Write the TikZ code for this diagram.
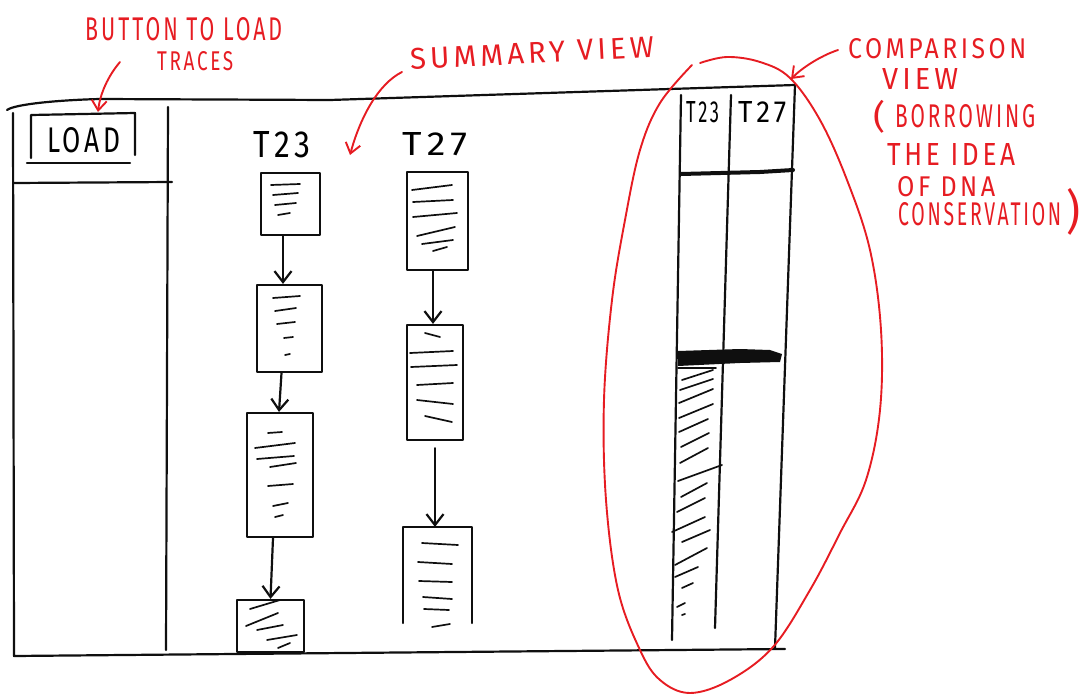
\documentclass[tikz,border=0pt]{standalone}
\usepackage{fontspec}
\setmainfont{Fira Sans}
\newfontfamily\hand[LetterSpace=14]{Fira Sans}
\usetikzlibrary{arrows.meta}
\definecolor{pen}{RGB}{15,15,15}
\definecolor{marker}{RGB}{230,28,34}
% text squeezed into a given width and height
\newcommand\fitbox[3]{\resizebox{#1}{#2}{\hand #3}}
\newcommand\fitboxall[3]{\resizebox*{#1}{#2}{#3}}

\begin{document}
\begin{tikzpicture}[x=1pt,y=-1pt,line cap=round,line join=round,
  ink/.style={draw=pen,line width=2.2pt},
  fine ink/.style={draw=pen,line width=1.7pt},
  red ink/.style={draw=marker,line width=1.9pt},
  flow/.style={ink,-{Straight Barb[length=11pt,width=17pt]}},
  callout/.style={red ink,-{Straight Barb[length=10pt,width=15pt]}},
  trace/.style={draw=pen,line width=2.2pt,rectangle,inner sep=0pt},
  word/.style={inner sep=0pt,anchor=north west},
  note/.style={word,text=marker}]

\useasboundingbox (0,0) rectangle (1082,696);

% ---------- window frame ----------
\draw[ink] (7,110) .. controls (15,104) and (60,100) .. (100,99) -- (330,100) -- (670,89) -- (795,85);
\draw[ink] (13,113) -- (14,656) -- (785,649);
\draw[ink] (168,107) -- (166,650);
\draw[ink] (14,183) -- (172,182);

% ---------- load button ----------
\node[word] (load) at (47,127) {\fitbox{73pt}{25pt}{LOAD}};
\draw[ink] (31,158) -- (31,115) -- (135,113) -- (135,155);
\draw[ink] (27,163) -- (130,163);

% ---------- summary view ----------
\node[word] (lblA) at (253,131) {\fitbox{57pt}{26pt}{T23}};
\node[word] (lblB) at (402,132) {\fitbox{65pt}{23pt}{T27}};

\node[trace,minimum width=59pt,minimum height=62pt]  (s1) at (290.5,204) {};
\node[trace,minimum width=65pt,minimum height=87pt]  (s2) at (289.5,328.5) {};
\node[trace,minimum width=66pt,minimum height=124pt] (s3) at (280,475) {};
\node[trace,minimum width=67pt,minimum height=52pt]  (s4) at (270.5,626) {};

\node[trace,minimum width=61pt,minimum height=98pt]  (t1) at (437.5,221) {};
\node[trace,minimum width=56pt,minimum height=115pt] (t2) at (435,382.5) {};
\node[trace,draw=none,minimum width=67pt,minimum height=94pt] (t3) at (437.5,575) {};
\draw[ink] (t3.south west) -- (t3.north west) -- (t3.north east) -- (t3.south east);

% lines of text inside the trace boxes
\foreach \a/\b/\c/\d in {271/185/300/184, 273/195/298/193, 275/205/296/203, 278/215/290/213,
  273/298/300/296, 275/311/296/308, 277/324/295/322, 284/338/293/337, 285/355/290/354,
  268/433/282/432, 255/448/295/443, 257/459/294/456, 270/467/296/463, 268/486/293/484, 273/506/288/503, 275/517/283/515,
  250/609/280/600, 246/626/278/613, 257/630/283/625, 267/640/297/635, 278/648/290/643,
  412/190/452/185, 413/202/453/200, 413/217/457/213, 417/236/455/227, 422/244/453/240, 433/251/447/247,
  425/333/440/337, 410/353/453/351, 411/367/457/365, 417/385/453/383, 417/400/453/404, 425/416/452/422,
  422/543/458/545, 418/562/452/564, 419/581/452/582, 423/597/452/599, 424/609/449/610, 432/627/450/624}
  \draw[fine ink] (\a,\b) -- (\c,\d);

% steps between traces
\draw[flow] ([xshift=-7.5pt]s1.south) -- ([xshift=-6.5pt]s2.north);
\draw[flow] ([xshift=-8pt]s2.south) -- ([xshift=-1pt]s3.north);
\draw[flow] ([xshift=-7pt]s3.south) -- ([xshift=0pt]s4.north);
\draw[flow] ([xshift=-4.5pt]t1.south) -- ([xshift=-2pt]t2.north);
\draw[flow] ([xshift=0pt,yshift=-7pt]t2.south) -- ([xshift=-2.5pt]t3.north);

% ---------- comparison view ----------
\draw[ink] (681,95) -- (672,640);
\draw[ink] (731,95) -- (715,628);
\draw[ink] (795,85) -- (775,648);
\node[word] (cmpA) at (686,101) {\fitbox{33pt}{21pt}{T23}};
\node[word] (cmpB) at (738,101) {\fitbox{48pt}{21pt}{T27}};
\draw[draw=pen,line width=4pt] (681,174) -- (760,172) -- (793,170);
\fill[pen] (678,351) -- (740,349) -- (770,350) -- (782,354) -- (780,362) -- (740,363) -- (678,366) -- cycle;
\draw[fine ink] (678,368) -- (716,368);
\foreach \a/\b/\c/\d in {682/380/713/370, 680/390/713/379, 679/403/713/389, 679/418/713/404,
  679/432/708/419, 681/447/709/433, 680/463/708/448, 678/481/722/465, 681/497/707/483,
  677/512/705/498, 672/532/705/517, 682/542/710/530, 675/565/707/548, 675/577/698/567,
  682/588/693/583, 677/607/685/603, 682/615/685/614}
  \draw[fine ink] (\a,\b) -- (\c,\d);

% ---------- red notes ----------
\node[note] (nButton) at (85,17) {\fitbox{197pt}{23pt}{BUTTON TO LOAD}};
\node[note] (nTraces) at (157,51) {\fitbox{76pt}{19pt}{TRACES}};
\coordinate (btnTip) at (98,112);
\draw[callout] (120,62) .. controls (108,76) and (100,94) .. (btnTip);

\node[note,anchor=center,rotate=3] (nSummary) at (532,53) {\fitbox{244pt}{21pt}{SUMMARY VIEW}};
\coordinate (sumTip) at (350,155);
\draw[callout] (402,72) .. controls (378,84) and (360,118) .. (sumTip);

\node[note] (nCmp)   at (848,38)  {\fitbox{178pt}{20pt}{COMPARISON}};
\node[note] (nView)  at (882,68)  {\fitbox{76pt}{21pt}{VIEW}};
\node[note] (nOpen)  at (873,100) {\fitboxall{12pt}{33pt}{(}};
\node[note] (nBorr)  at (895,104) {\fitbox{140pt}{23pt}{BORROWING}};
\node[note] (nIdea)  at (887,143) {\fitbox{128pt}{22pt}{THE IDEA}};
\node[note] (nDna)   at (897,176) {\fitbox{98pt}{20pt}{OF DNA}};
\node[note] (nCons)  at (898,202) {\fitbox{163pt}{23pt}{CONSERVATION}};
\node[note] (nClose) at (1066,188) {\fitboxall{14pt}{47pt}{)}};
\coordinate (cmpTip) at (791,79);
\draw[callout] (838,50) .. controls (820,56) and (802,68) .. (cmpTip);

% loop round the comparison view
\draw[red ink] plot[smooth,tension=0.6] coordinates {(700,63) (727,57) (760,62) (790,78) (820,120)
  (847,180) (870,250) (881,330) (880,410) (866,480) (840,533) (810,590) (773,647) (730,680)
  (690,693) (660,680) (640,650) (618,590) (606,500) (604,400) (612,300) (625,220) (640,150)
  (660,103) (692,65)};

\end{tikzpicture}
\end{document}
